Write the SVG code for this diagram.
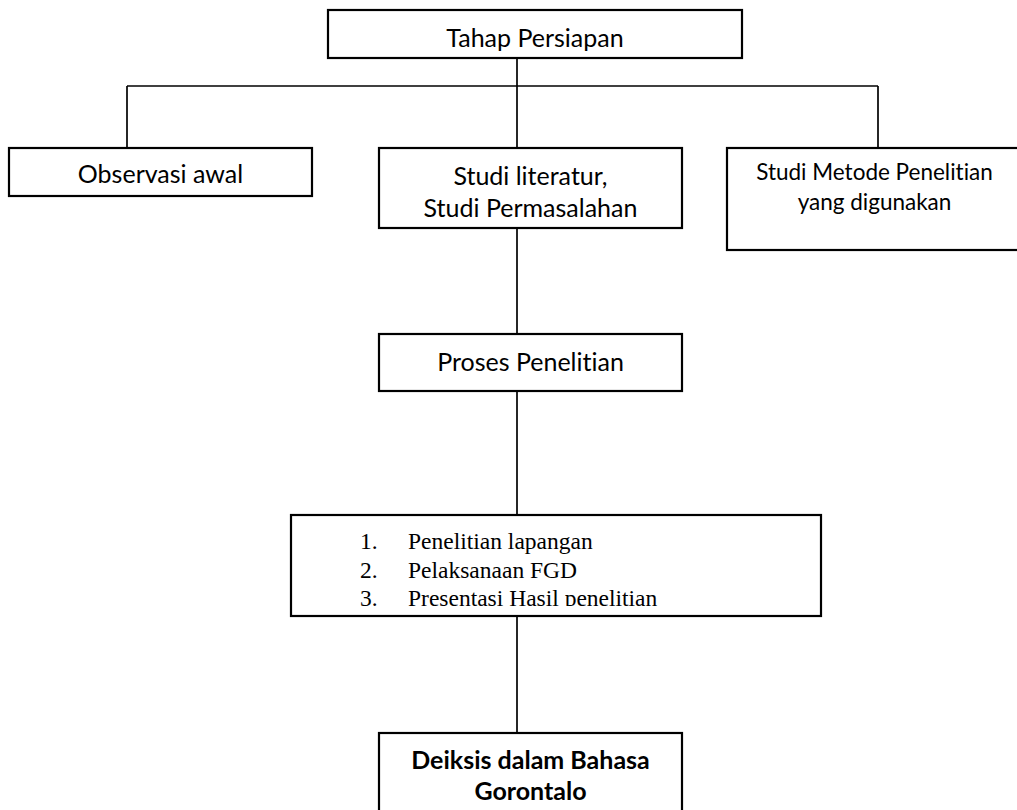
<svg xmlns="http://www.w3.org/2000/svg" width="1017" height="810" viewBox="0 0 1017 810">
<style>
.box{fill:#fff;stroke:#000;stroke-width:2.2}
.ln{stroke:#000;stroke-width:1.7;fill:none}
.t{font-family:Lato,"Open Sans",sans-serif;font-size:25px;fill:#000;text-anchor:middle;font-variant-ligatures:none}
.m{font-size:22.5px}
.b{font-weight:bold}
.s{font-family:"Liberation Serif",serif;font-size:23.5px;fill:#000}
</style>
<rect width="1017" height="810" fill="#fff"/>
<g id="connectors">
<line class="ln" x1="517" y1="58" x2="517" y2="148"/>
<line class="ln" x1="127" y1="86" x2="878" y2="86"/>
<line class="ln" x1="127" y1="86" x2="127" y2="148"/>
<line class="ln" x1="878" y1="86" x2="878" y2="148"/>
<line class="ln" x1="517" y1="228" x2="517" y2="334"/>
<line class="ln" x1="517" y1="391" x2="517" y2="515"/>
<line class="ln" x1="517" y1="616" x2="517" y2="733"/>
</g>
<g id="tahap">
<rect class="box" x="328" y="10" width="414" height="48"/>
<text class="t" x="535" y="47">Tahap Persiapan</text>
</g>
<g id="observasi">
<rect class="box" x="9" y="148" width="303" height="48"/>
<text class="t" x="160.5" y="183">Observasi awal</text>
</g>
<g id="studi">
<rect class="box" x="379" y="148" width="303" height="80"/>
<text class="t" x="530.5" y="185">Studi literatur,</text>
<text class="t" x="530.5" y="217">Studi Permasalahan</text>
</g>
<g id="metode">
<rect class="box" x="727" y="148" width="300" height="102"/>
<text class="t m" x="874.5" y="180">Studi Metode Penelitian</text>
<text class="t m" x="874.5" y="210">yang digunakan</text>
</g>
<g id="proses">
<rect class="box" x="379" y="334" width="303" height="57"/>
<text class="t" x="530.5" y="371">Proses Penelitian</text>
</g>
<g id="list">
<rect class="box" x="291" y="515" width="530" height="101"/>
<text class="s" x="360" y="549">1.</text><text class="s" x="408" y="549">Penelitian lapangan</text>
<text class="s" x="360" y="578">2.</text><text class="s" x="408" y="578">Pelaksanaan FGD</text>
<svg x="291" y="515" width="530" height="91" overflow="hidden">
<text class="s" x="69" y="91">3.</text><text class="s" x="117" y="91">Presentasi Hasil penelitian</text>
</svg>
</g>
<g id="deiksis">
<rect class="box" x="379" y="733" width="303" height="90"/>
<text class="t b" x="530.5" y="769">Deiksis dalam Bahasa</text>
<text class="t b" x="530.5" y="800">Gorontalo</text>
</g>
</svg>
